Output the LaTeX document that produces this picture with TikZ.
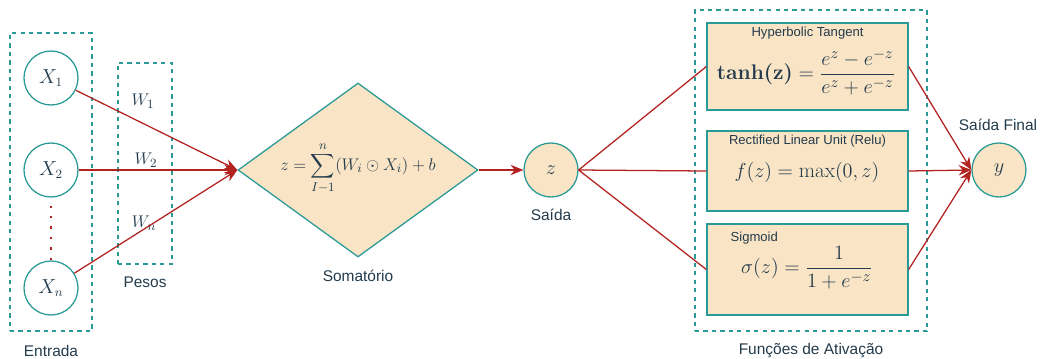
\documentclass[tikz,border=0pt]{standalone}
\usepackage{amsmath}
\usepackage{fontspec}
\setsansfont{Liberation Sans}
\usepackage{tikz}
\usetikzlibrary{positioning,arrows.meta,shapes.geometric}
\definecolor{nnteal}{HTML}{2A9A96}
\definecolor{nnfill}{HTML}{F9E4C5}
\definecolor{nnred}{HTML}{B2221F}
\definecolor{nntext}{HTML}{233B4C}
\tikzset{
  neuron/.style={circle, draw=nnteal, line width=0.9pt, minimum size=54*0.025cm,
    inner sep=0pt, font=\fontsize{13.5}{15}\selectfont, text=nntext},
  outn/.style={neuron, fill=nnfill},
  grp/.style={draw=nnteal, dashed, line width=0.9pt},
  soma/.style={diamond, draw=nnteal, fill=nnfill, line width=0.9pt,
    minimum width=240*0.025cm, minimum height=174*0.025cm, inner sep=0pt},
  actb/.style={draw=nnteal, fill=nnfill, line width=0.9pt,
    minimum width=201*0.025cm, inner sep=0pt},
  mlab/.style={font=\fontsize{13.2}{15}\selectfont, text=nntext, inner sep=0pt},
  flab/.style={font=\fontsize{15}{17}\selectfont, text=nntext, inner sep=0pt},
  slab/.style={font=\sffamily\fontsize{11}{13}\selectfont, text=nntext},
  tlab/.style={font=\sffamily\fontsize{9.3}{11}\selectfont, text=nntext, inner sep=0pt},
  link/.style={draw=nnred, line width=0.9pt},
  flow/.style={link, -{Stealth[length=3.2mm, width=2.6mm]}},
}

\begin{document}
\begin{tikzpicture}[x=0.025cm, y=-0.025cm]
    \useasboundingbox (0,0) rectangle (1040,358);
    % entrada
    \node[grp, minimum width=82*0.025cm, minimum height=298*0.025cm] (inbox) at (51,182) {};
    \node[slab] (inlab) at (51,351) {Entrada};
    \node[neuron] (x1) at (51,78) {$X_1$};
    \node[neuron] (x2) at (51,170) {$X_2$};
    \node[neuron] (xn) at (51,288) {$X_n$};
    \draw[nnred, line width=1.6pt, dash pattern=on 1.6pt off 5.8pt]
      ([yshift=-8*0.025cm]x2.south) -- (xn.north);
    % pesos
    \node[grp, minimum width=54*0.025cm, minimum height=201*0.025cm] (wbox) at (145,163.5) {};
    \node[slab] (wlab) at (145,282) {Pesos};
    \node[mlab] (w1) at (143,101) {$W_1$};
    \node[mlab] (w2) at (146,160) {$W_2$};
    \node[mlab] (wn) at (144,223) {$W_n$};
    % somatorio
    \node[soma] (sum) at (358,170) {};
    \node[mlab] (sumf) at (358,168) {$z=\displaystyle\sum_{I-1}^{n}(W_i\odot X_i)+b$};
    \node[slab] (sumlab) at (358,276) {Somatório};
    \node[outn] (z) at (551,170) {$z$};
    \node[slab] (zlab) at (551,215) {Saída};
    % ativacao
    \node[grp, minimum width=232*0.025cm, minimum height=321*0.025cm] (actbox) at (811,170.5) {};
    \node[slab] (actlab) at (811,351) {Funções de Ativação};
    \node[actb, minimum height=87*0.025cm] (tanh) at (807.5,66.5) {};
    \node[actb, minimum height=80*0.025cm] (relu) at (807.5,171) {};
    \node[actb, minimum height=91*0.025cm] (sigm) at (807.5,269.5) {};
    \node[tlab, below=4*0.025cm of tanh.north] (tanht) {Hyperbolic Tangent};
    \node[tlab, below=4.5*0.025cm of relu.north] (relut) {Rectified Linear Unit (Relu)};
    \node[tlab, anchor=north west] (sigmt) at ([xshift=24*0.025cm, yshift=-8*0.025cm]sigm.north west) {Sigmoid};
    \node[flab] (tanhf) at (806,72) {$\textbf{tanh(z)}=\dfrac{e^z-e^{-z}}{e^z+e^{-z}}$};
    \node[flab] (reluf) at (807,172) {$f(z)=\max(0,z)$};
    \node[flab] (sigmf) at (807,268) {$\sigma(z)=\dfrac{1}{1+e^{-z}}$};
    \node[outn] (y) at (999,170) {$y$};
    \node[slab] (ylab) at (998,125) {Saída Final};
    % ligacoes
    \draw[flow] (x1) -- (sum.west);
    \draw[flow] (x2) -- (sum.west);
    \draw[flow] (xn) -- (sum.west);
    \draw[flow] (sum.east) -- (z);
    \draw[link] (z.east) -- (tanh.west);
    \draw[link] (z.east) -- (relu.west);
    \draw[link] (z.east) -- (sigm.west);
    \draw[flow] (tanh.east) -- (y.west);
    \draw[flow] (relu.east) -- (y.west);
    \draw[flow] (sigm.east) -- (y.west);
  \end{tikzpicture}
\end{document}
